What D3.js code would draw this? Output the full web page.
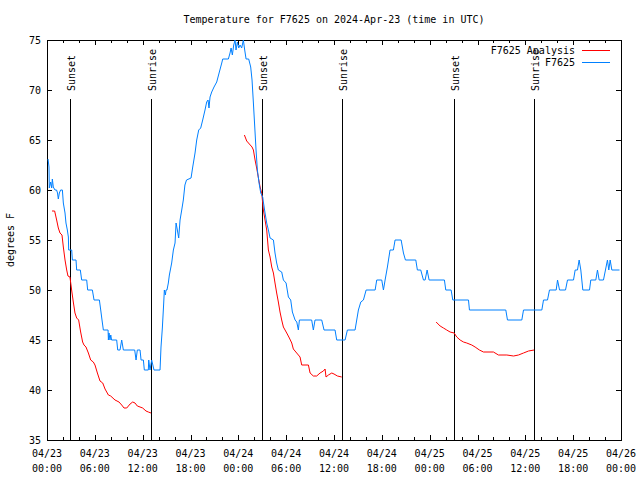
<!DOCTYPE html>
<html>
<head>
<meta charset="utf-8">
<script src="https://cdn.jsdelivr.net/npm/d3@7"></script>
<style>
  html, body { margin: 0; padding: 0; background: #fff; }
  svg { display: block; }
  text { font-family: "DejaVu Sans Mono", "Liberation Mono", monospace; font-size: 10px; fill: #000; }
</style>
</head>
<body>
<svg id="chart" width="640" height="480"></svg>
<script>
// ---- data (hours after 2024-04-23 00:00 UTC, degrees F) ----
const chartTitle = "Temperature for F7625 on 2024-Apr-23 (time in UTC)";
const yLabel = "degrees F";
const seriesNames = ["F7625 Analysis", "F7625"];
const seriesColors = ["#ff0000", "#0080ff"];
const yTicks = [35, 40, 45, 50, 55, 60, 65, 70, 75];
const sunsetHours = [2.9, 27.0, 51.05];
const sunriseHours = [13.05, 37.0, 61.1];

const obsF7625 = [
  [0.13,63.1],[0.25,62.3],[0.29,60.2],[0.46,60.8],[0.59,60.2],[0.67,61.1],[0.79,60.3],[1.0,60],[1.2,60],[1.32,59.7],
  [1.42,59.1],[1.55,59.7],[1.71,60],[1.93,60],[2.05,58.7],[2.26,57.7],[2.38,56.7],[2.55,56],[2.68,55.3],[2.72,54],
  [3.1,54],[3.18,53],[3.64,53],[3.72,52],[4.18,52],[4.35,51],[4.98,51],[5.1,50],[5.69,50],[5.9,49],
  [6.57,49],[6.74,48],[6.9,47],[7.07,46],[7.66,46],[7.7,45],[7.78,45.7],[7.9,45],[8.0,45.5],[8.1,45],
  [8.74,45],[8.87,44],[9.16,44],[9.37,45],[9.58,44],[11.0,44],[11.17,43],[11.33,44],[11.67,44],[11.8,43],
  [12.09,43],[12.21,42],[12.71,42],[12.76,43],[12.92,42],[13.13,43],[13.42,42],[14.18,42],[14.3,44.3],[14.47,46.2],
  [14.64,48.7],[14.72,50],[14.85,49.5],[14.93,50],[15.05,50],[15.22,50.7],[15.35,51.5],
  [15.64,52.7],[15.85,54],[16.06,54.7],[16.19,56.7],[16.35,56],[16.52,55.2],[16.69,57],[16.9,58],[17.1,59],[17.3,60.5],
  [17.5,61],[18.07,61.2],[18.28,62.3],[18.57,63.7],[18.78,65],[19.03,66],[19.28,66.2],[19.53,67],[19.82,68],[20.03,68.8],
  [20.2,69],[20.32,68.2],[20.45,69.3],[20.66,69.8],[20.95,70.3],[21.29,70.8],[21.62,71.8],[21.92,72.7],[22.04,73.1],[22.75,73.1],
  [22.96,73.7],[23.09,74.2],[23.25,73.5],[23.42,74.5],[23.59,75],[23.71,74],[23.88,74.8],[24.05,74.2],[24.21,74.5],[24.42,74.2],
  [24.63,75],[24.8,74],[24.97,73.1],[25.3,73.1],[25.55,72.3],[25.72,71],[25.89,68.7],[26.06,66.3],[26.22,64],[26.39,62],
  [26.6,60.7],[26.81,59.7],[27.06,59.3],[27.14,58.8],[27.35,57.7],[27.56,56.7],[27.77,56],[27.98,55.2],[28.4,55],[28.6,53.7],
  [28.81,52.7],[29.02,52],[29.44,51.8],[29.65,51],[29.99,50.7],[30.28,49.3],[30.57,49],[30.78,47.8],[31.12,47],[31.33,46.8],
  [31.53,46],[31.66,47],[33.2,47],[33.41,46],[33.62,47],[34.46,47],[34.75,46],[36.13,46],[36.34,45],[37.39,45],
  [37.68,46],[38.64,46],[38.85,47],[39.06,48],[39.36,48.8],[39.69,49],[40.03,50],[41.16,50],[41.36,51],[41.99,51],
  [42.2,50],[42.41,51],[42.7,52.3],[43.03,54],[43.45,54],[43.66,55],[44.42,55],[44.71,53.7],[44.96,53],[46.26,53],
  [46.46,52],[46.88,52],[47.22,51],[47.43,51],[47.68,52],[47.93,51],[49.85,51],[50.02,50],[50.69,50],[50.9,49],
  [52.87,49],[52.99,48],[57.55,48],[57.76,47],[59.56,47],[59.77,48],[62.07,48],[62.28,49],[62.78,49],[63.03,50],
  [63.87,50],[64.04,51],[64.29,50],[65.04,50],[65.29,51],[66.04,51],[66.25,52],[66.54,52],[66.75,53],[66.96,52],
  [67.21,50],[68.05,50],[68.21,51],[68.84,51],[69.05,52],[69.26,51],[69.8,51],[70.05,52],[70.3,53],[70.47,52],
  [70.64,53],[70.85,52],[71.81,52]
];

const analysisSeg1 = [
  [0.63,57.9],[0.96,57.9],[1.21,57],[1.42,56.2],[1.63,55.7],[1.88,55.5],[2.05,54.3],[2.26,53],[2.47,52],[2.63,51.4],
  [2.88,51.3],[3.09,50],[3.3,48.8],[3.51,47.7],[3.72,47.2],[3.97,47],[4.22,45.8],[4.47,44.8],[4.64,44.5],[4.89,44.3],
  [5.19,43.7],[5.48,43],[5.81,42.8],[6.02,42.5],[6.32,41.7],[6.65,40.9],[6.99,40.7],[7.28,40.1],[7.7,39.5],[7.99,39.4],
  [8.53,39],[9.03,38.8],[9.37,38.5],[9.66,38.2],[10.0,38.2],[10.42,38.6],[10.75,38.8],[11.04,38.7],[11.33,38.4],[11.67,38.3],
  [12.0,38.2],[12.42,37.9],[12.71,37.8],[13.05,37.7]
];
const analysisSeg2 = [
  [24.76,65.5],[25.05,64.9],[25.38,64.6],[25.72,64.3],[25.89,64],[26.1,63],[26.3,62.2],[26.52,61.2],[26.73,60.3],[26.93,59.7],
  [27.14,58],[27.35,57],[27.56,56],[27.77,54],[27.98,53.3],[28.19,52.3],[28.4,51.7],[28.6,50.7],[28.81,49.7],[29.02,48.8],
  [29.23,47.8],[29.44,47],[29.65,46.3],[29.86,46],[30.07,45.7],[30.4,45.2],[30.7,44.7],[30.9,44.1],[31.32,43.7],[31.74,43.3],
  [31.95,42.5],[32.79,42.5],[33.0,41.7],[33.41,41.4],[33.83,41.4],[34.25,41.7],[34.67,41.9],[34.88,42.1],[35.0,41.3],[35.3,41.5],
  [35.72,41.7],[36.0,41.6],[36.43,41.4],[36.97,41.3]
];
const analysisSeg3 = [
  [48.81,46.8],[49.31,46.4],[49.73,46.2],[50.14,46],[50.56,45.8],[51.07,45.7],[51.4,45.3],[51.82,45],[52.24,44.8],[52.65,44.7],
  [53.28,44.5],[53.7,44.3],[54.24,44],[54.75,43.8],[56.0,43.8],[56.63,43.5],[57.68,43.5],[58.52,43.4],[59.14,43.5],[59.77,43.7],
  [60.4,43.9],[61.1,44]
];

// ---- layout ----
const L = 47, R = 621, T = 40, B = 440;
const base = Date.UTC(2024, 3, 23);
const H = 3600 * 1000;
const toDate = h => new Date(base + h * H);

const svg = d3.select("#chart");
const x = d3.scaleUtc().domain([toDate(0), toDate(72)]).range([L, R]);
const y = d3.scaleLinear().domain([35, 75]).range([B, T]);

// title
svg.append("text").attr("x", (L + R) / 2).attr("y", 23)
  .attr("text-anchor", "middle").text(chartTitle);

// y label
svg.append("text").attr("transform", `translate(14,${(T + B) / 2}) rotate(-90)`)
  .attr("text-anchor", "middle").text(yLabel);

const g = svg.append("g").attr("shape-rendering", "crispEdges");

// ticks
const majorX = d3.utcHour.every(6).range(toDate(0), toDate(72.01));
const minorX = d3.utcHour.every(2).range(toDate(0), toDate(72.01));
minorX.forEach(d => {
  const isMajor = d.getUTCHours() % 6 === 0;
  const len = isMajor ? 5 : 3;
  const xx = Math.round(x(d)) + 0.5;
  g.append("line").attr("x1", xx).attr("x2", xx).attr("y1", B).attr("y2", B - len).attr("stroke", "#000");
  g.append("line").attr("x1", xx).attr("x2", xx).attr("y1", T).attr("y2", T + len).attr("stroke", "#000");
});
yTicks.forEach(v => {
  const yy = Math.round(y(v)) + 0.5;
  g.append("line").attr("x1", L).attr("x2", L + 5).attr("y1", yy).attr("y2", yy).attr("stroke", "#000");
  g.append("line").attr("x1", R).attr("x2", R - 5).attr("y1", yy).attr("y2", yy).attr("stroke", "#000");
  svg.append("text").attr("x", 41).attr("y", y(v)).attr("dy", "0.35em")
    .attr("text-anchor", "end").text(v);
});
const fmtDay = d3.utcFormat("%m/%d"), fmtTime = d3.utcFormat("%H:%M");
majorX.forEach(d => {
  const t = svg.append("text").attr("text-anchor", "middle");
  t.append("tspan").attr("x", x(d)).attr("y", 457).text(fmtDay(d));
  t.append("tspan").attr("x", x(d)).attr("y", 472).text(fmtTime(d));
});

// sunrise / sunset lines
function sunLine(h, label) {
  const xx = Math.round(x(toDate(h))) + 0.5;
  g.append("line").attr("x1", xx).attr("x2", xx).attr("y1", 99).attr("y2", B).attr("stroke", "#000");
  svg.append("text").attr("transform", `translate(${xx + 4.5},91) rotate(-90)`)
    .attr("text-anchor", "start").text(label);
}
sunsetHours.forEach(h => sunLine(h, "Sunset"));
sunriseHours.forEach(h => sunLine(h, "Sunrise"));

// border
g.append("rect").attr("x", L + 0.5).attr("y", T + 0.5).attr("width", R - L).attr("height", B - T)
  .attr("fill", "none").attr("stroke", "#000");

// series
const line = d3.line().x(d => x(toDate(d[0]))).y(d => y(d[1]));
[analysisSeg1, analysisSeg2, analysisSeg3].forEach(seg => {
  svg.append("path").datum(seg).attr("d", line)
    .attr("fill", "none").attr("stroke", seriesColors[0]).attr("stroke-width", 1);
});
svg.append("path").datum(obsF7625).attr("d", line)
  .attr("fill", "none").attr("stroke", seriesColors[1]).attr("stroke-width", 1);

// legend
seriesNames.forEach((name, i) => {
  const ly = 50.5 + i * 12;
  svg.append("text").attr("x", 575).attr("y", ly).attr("dy", "0.35em")
    .attr("text-anchor", "end").text(name);
  svg.append("line").attr("x1", 582).attr("x2", 610).attr("y1", ly).attr("y2", ly)
    .attr("stroke", seriesColors[i]).attr("shape-rendering", "crispEdges");
});
</script>
</body>
</html>
